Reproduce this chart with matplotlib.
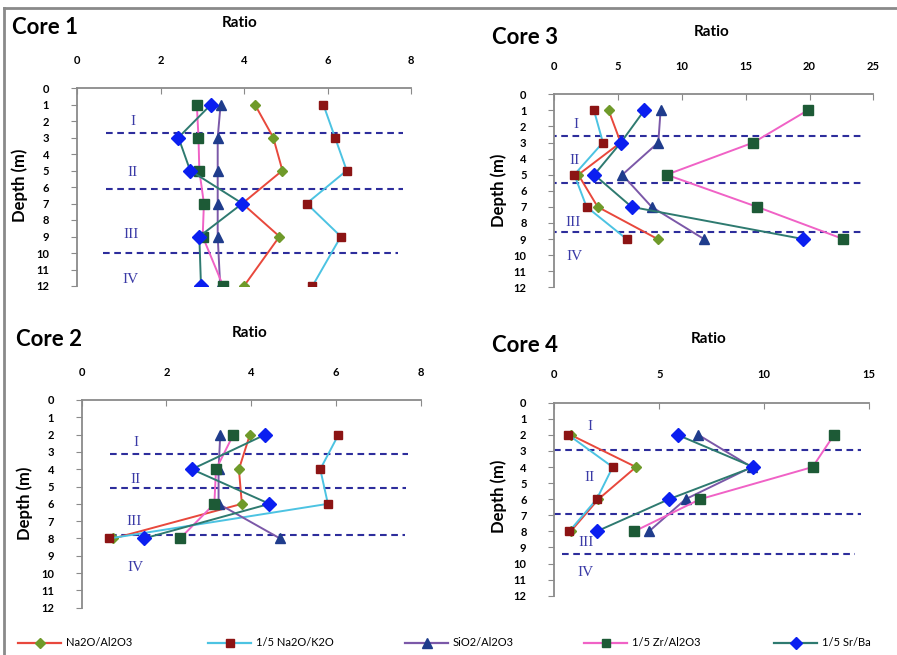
import numpy as np
import matplotlib
matplotlib.use('Agg')
from matplotlib import pyplot as plt
from matplotlib.lines import Line2D

plt.rcParams['font.family'] = ['Lato', 'DejaVu Sans']

series_names = ['Na2O/Al2O3', '1/5 Na2O/K2O', 'SiO2/Al2O3', '1/5 Zr/Al2O3', '1/5 Sr/Ba']
line_colors = ['#e8483c', '#4cc3e2', '#7b58a8', '#f062c6', '#2e7a70']
marker_colors = ['#6f9a2a', '#8c1414', '#1f3c8c', '#1d5a36', '#0b1ff0']
markers = ['D', 's', '^', 's', 'D']
marker_sizes = [5.5, 6, 7, 6.5, 7]

zone_labels = ['I', 'II', 'III', 'IV']

# core 1
core1_depth = [1, 3, 5, 7, 9, 12]
core1_na_al = [4.26, 4.70, 4.92, 3.96, 4.85, 4.00]
core1_na_k = [5.90, 6.18, 6.46, 5.50, 6.32, 5.64]
core1_si_al = [3.44, 3.37, 3.37, 3.37, 3.37, 3.43]
core1_zr_al = [2.87, 2.91, 2.93, 3.04, 3.01, 3.50]
core1_sr_ba = [3.21, 2.43, 2.71, 3.96, 2.93, 2.97]
core1_zones = [2.7, 6.1, 10.0]
core1_label_depth = [2.0, 5.1, 8.9, 11.6]
core1_label_x = [1.35, 1.33, 1.3, 1.29]

# core 2
core2_depth = [2, 4, 6, 8]
core2_na_al = [3.97, 3.71, 3.78, 0.75]
core2_na_k = [6.06, 5.63, 5.81, 0.65]
core2_si_al = [3.27, 3.23, 3.23, 4.68]
core2_zr_al = [3.58, 3.17, 3.13, 2.32]
core2_sr_ba = [4.33, 2.60, 4.43, 1.47]
core2_zones = [3.1, 5.07, 7.8]
core2_label_depth = [2.45, 4.6, 7.0, 9.7]
core2_label_x = [1.28, 1.28, 1.24, 1.26]

# core 3
core3_depth = [1, 3, 5, 7, 9]
core3_na_al = [4.26, 5.20, 1.88, 3.40, 8.10]
core3_na_k = [3.11, 3.81, 1.57, 2.53, 5.67]
core3_si_al = [8.33, 8.15, 5.33, 7.63, 11.73]
core3_zr_al = [19.85, 15.6, 8.8, 15.9, 22.65]
core3_sr_ba = [7.05, 5.22, 3.13, 6.06, 19.51]
core3_zones = [2.57, 5.5, 8.58]
core3_label_depth = [1.85, 4.1, 7.95, 10.1]
core3_label_x = [1.7, 1.6, 1.5, 1.6]

# core 4
core4_depth = [2, 4, 6, 8]
core4_na_al = [0.78, 3.89, 2.10, 0.78]
core4_na_k = [0.67, 2.78, 2.02, 0.71]
core4_si_al = [6.86, 9.40, 6.25, 4.51]
core4_zr_al = [13.32, 12.30, 6.94, 3.81]
core4_sr_ba = [5.87, 9.48, 5.46, 2.02]
core4_zones = [2.94, 6.94, 9.41]
core4_label_depth = [1.45, 4.65, 8.7, 10.55]
core4_label_x = [1.7, 1.67, 1.5, 1.5]

W, H = 897, 655
fig = plt.figure(figsize=(W / 100, H / 100), dpi=100)


def rect(x0, x1, y0, y1):
    # pixel box -> figure fraction
    return [x0 / W, 1 - y1 / H, (x1 - x0) / W, (y1 - y0) / H]


def draw_core(box, depth, vals, xmax, xstep, zones, lab_depth, lab_x, dash_span):
    ax = fig.add_axes(rect(*box))
    for i, v in enumerate(vals):
        ax.plot(v, depth, color=line_colors[i], lw=1.4, marker=markers[i],
                ms=marker_sizes[i], mfc=marker_colors[i], mec=marker_colors[i],
                zorder=3)
    for k, z in enumerate(zones):
        ax.plot(dash_span[k], [z, z], color='#2d2d9c', lw=1.5,
                dashes=(3.2, 2.2), zorder=2)
    for k, t in enumerate(zone_labels):
        ax.text(lab_x[k], lab_depth[k], t, family='Liberation Serif',
                fontsize=11, color='#3a3aa6', ha='center', va='center')
    ax.set_xlim(0, xmax)
    ax.set_ylim(12, 0)
    ax.set_xticks(np.arange(0, xmax + 0.1, xstep))
    ax.set_yticks(np.arange(0, 13, 1))
    ax.xaxis.tick_top()
    for s in ['right', 'bottom']:
        ax.spines[s].set_visible(False)
    for s in ['left', 'top']:
        ax.spines[s].set_color('#8a8a8a')
        ax.spines[s].set_linewidth(1.3)
    ax.tick_params(axis='x', direction='in', length=4, color='#8a8a8a',
                   pad=16, labelsize=8)
    ax.tick_params(axis='y', direction='out', length=4, color='#8a8a8a',
                   pad=16, labelsize=8)
    for lab in ax.get_xticklabels() + ax.get_yticklabels():
        lab.set_fontweight('bold')
    ax.patch.set_alpha(0)
    return ax


draw_core((77, 411, 88, 286), core1_depth,
          [core1_na_al, core1_na_k, core1_si_al, core1_zr_al, core1_sr_ba],
          8, 2, core1_zones, core1_label_depth, core1_label_x,
          [[0.7, 7.8], [0.7, 7.8], [0.63, 7.7]])
draw_core((81.7, 420.7, 400, 607.7), core2_depth,
          [core2_na_al, core2_na_k, core2_si_al, core2_zr_al, core2_sr_ba],
          8, 2, core2_zones, core2_label_depth, core2_label_x,
          [[0.67, 7.7], [0.67, 7.65], [0.67, 7.63]])
draw_core((554.3, 873.3, 94.3, 287.3), core3_depth,
          [core3_na_al, core3_na_k, core3_si_al, core3_zr_al, core3_sr_ba],
          25, 5, core3_zones, core3_label_depth, core3_label_x,
          [[-0.3, 24], [-0.3, 24], [-0.3, 24]])
draw_core((554.3, 869.3, 402.7, 595.7), core4_depth,
          [core4_na_al, core4_na_k, core4_si_al, core4_zr_al, core4_sr_ba],
          15, 5, core4_zones, core4_label_depth, core4_label_x,
          [[0, 14.6], [0, 14.6], [0.35, 14.3]])

# panel titles and axis labels
core_titles = ['Core 1', 'Core 3', 'Core 2', 'Core 4']
title_pos = [(12, 28), (492, 37), (16, 339), (492, 345)]
ratio_pos = [(240, 23), (712, 32), (250, 333), (709, 339)]
depth_pos = [(20, 185), (499, 190), (25, 503), (499, 496)]
for t, (tx, ty), (rx, ry), (dx, dy) in zip(core_titles, title_pos, ratio_pos, depth_pos):
    fig.text(tx / W, 1 - ty / H, t, fontsize=16, fontweight='bold',
             ha='left', va='center')
    fig.text(rx / W, 1 - ry / H, 'Ratio', fontsize=11, fontweight='bold',
             ha='center', va='center')
    fig.text(dx / W, 1 - dy / H, 'Depth (m)', fontsize=12, fontweight='bold',
             ha='center', va='center', rotation=90)

# frame lines (left and top)
fig.add_artist(Line2D([4 / W, 4 / W], [0, 1 - 8 / H], color='#8a8a8a', lw=2))
fig.add_artist(Line2D([4 / W, 1], [1 - 8 / H, 1 - 8 / H], color='#8a8a8a', lw=2))

# legend, one entry at a time
legend_x = [18, 208, 405, 584, 774]
for i, name in enumerate(series_names):
    h = Line2D([], [], color=line_colors[i], lw=1.6, marker=markers[i],
               ms=marker_sizes[i] - 0.5, mfc=marker_colors[i], mec=marker_colors[i])
    fig.legend(handles=[h], labels=[name], loc='center left',
               bbox_to_anchor=(legend_x[i] / W, 1 - 643 / H), frameon=False,
               fontsize=8, handlelength=3.9, handletextpad=0.4,
               borderpad=0, borderaxespad=0)

fig.savefig('out.png', dpi=100)
